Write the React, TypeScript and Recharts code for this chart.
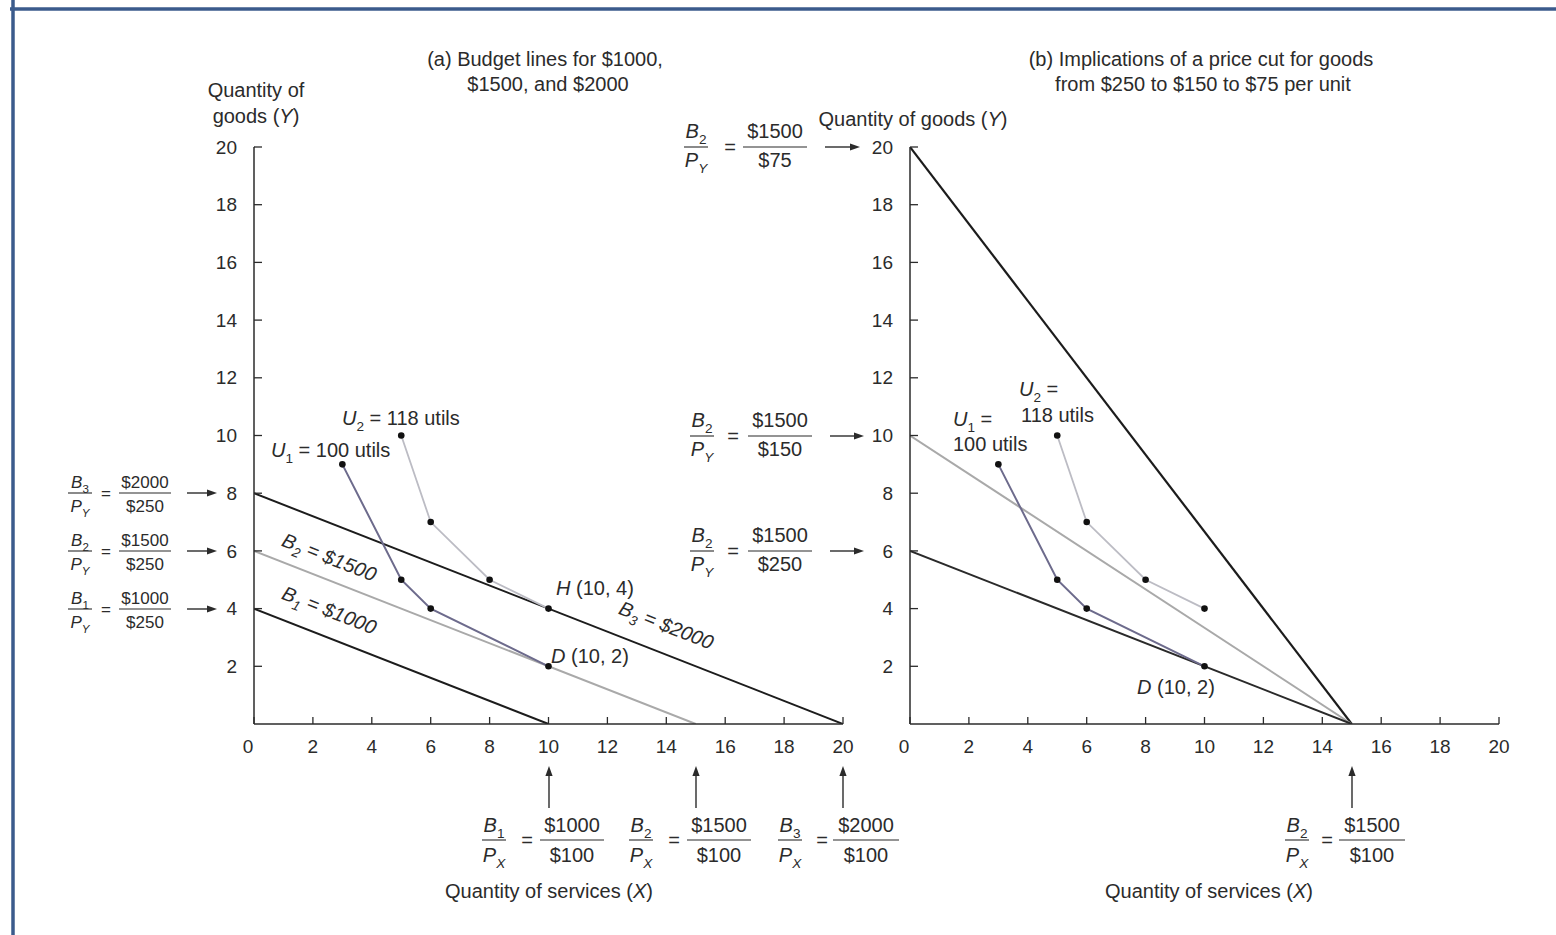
import React from 'react';
import { LineChart, Line, XAxis, YAxis } from 'recharts';

type Pt = { x: number; y: number };

// panel (a): budget lines for $1000, $1500, $2000 (Px = $100, Py = $250)
const budget1000: Pt[] = [{ x: 0, y: 4 }, { x: 10, y: 0 }];
const budget1500: Pt[] = [{ x: 0, y: 6 }, { x: 15, y: 0 }];
const budget2000: Pt[] = [{ x: 0, y: 8 }, { x: 20, y: 0 }];

// indifference curves (same points in both panels)
const util100: Pt[] = [{ x: 3, y: 9 }, { x: 5, y: 5 }, { x: 6, y: 4 }, { x: 10, y: 2 }];
const util118: Pt[] = [{ x: 5, y: 10 }, { x: 6, y: 7 }, { x: 8, y: 5 }, { x: 10, y: 4 }];

// panel (b): $1500 budget with goods at $75, $150, $250
const goods75: Pt[] = [{ x: 0, y: 20 }, { x: 15, y: 0 }];
const goods150: Pt[] = [{ x: 0, y: 10 }, { x: 15, y: 0 }];
const goods250: Pt[] = [{ x: 0, y: 6 }, { x: 15, y: 0 }];

const xTicks = [0, 2, 4, 6, 8, 10, 12, 14, 16, 18, 20];
const yTicks = [2, 4, 6, 8, 10, 12, 14, 16, 18, 20];

const FONT = '"Liberation Sans", Arial, Helvetica, sans-serif';
const INK = '#2b2b2b';
const BLACK = '#1c1c1c';
const GRAY = '#a9a9a9';
const U1C = '#6d6b8c';
const U2C = '#bcbcc4';

const XTick = (props: any) => {
  const { x, y, payload } = props;
  return (
    <text x={payload.value === 0 ? x - 6 : x} y={y} dy="0.71em" textAnchor="middle"
      fontSize={19} fill={INK} fontFamily={FONT}>
      {payload.value}
    </text>
  );
};

const YTick = (props: any) => {
  const { x, y, payload } = props;
  return (
    <text x={x} y={y} dy="0.35em" textAnchor="end" fontSize={19} fill={INK} fontFamily={FONT}>
      {payload.value}
    </text>
  );
};

const dot = { r: 3.3, fill: '#111', stroke: '#111', strokeWidth: 0 };

function Axes() {
  return [
    <XAxis key="x" type="number" dataKey="x" domain={[0, 20]} ticks={xTicks} interval={0}
      allowDataOverflow height={30} tickSize={-7} tickMargin={22.5} tick={<XTick />}
      axisLine={{ stroke: INK, strokeWidth: 1.5 }} tickLine={{ stroke: INK, strokeWidth: 1.3 }} />,
    <YAxis key="y" type="number" dataKey="y" domain={[0, 20]} ticks={yTicks} interval={0}
      allowDataOverflow width={40} tickSize={-8} tickMargin={25} tick={<YTick />}
      axisLine={{ stroke: INK, strokeWidth: 1.5 }} tickLine={{ stroke: INK, strokeWidth: 1.3 }} />,
  ];
}

function Sub({ b, s, size, italicSub }: { b: string; s: string; size: number; italicSub?: boolean }) {
  return (
    <>
      <tspan fontStyle="italic">{b}</tspan>
      <tspan fontSize={size * 0.68} dy={size * 0.28} fontStyle={italicSub ? 'italic' : 'normal'}>{s}</tspan>
    </>
  );
}

function Arrow({ x1, y1, x2, y2 }: { x1: number; y1: number; x2: number; y2: number }) {
  const a = Math.atan2(y2 - y1, x2 - x1);
  const L = 10, W = 3.6;
  const bx = x2 - L * Math.cos(a), by = y2 - L * Math.sin(a);
  const px = -Math.sin(a) * W, py = Math.cos(a) * W;
  return (
    <g>
      <line x1={x1} y1={y1} x2={bx} y2={by} stroke={INK} strokeWidth={1.4} />
      <polygon points={`${x2},${y2} ${bx + px},${by + py} ${bx - px},${by - py}`} fill={INK} />
    </g>
  );
}

function Frac(p: {
  y: number; lx: number; eqx: number; vx: number; vw: number; sub: string; den: string;
  num: string; dv: string; fs: number; nOff: number; dOff: number;
}) {
  const { y, lx, eqx, vx, vw, sub, den, num, dv, fs, nOff, dOff } = p;
  return (
    <g fontSize={fs} fill={INK} fontFamily={FONT}>
      <text x={lx} y={y - nOff} textAnchor="middle"><Sub b="B" s={sub} size={fs} /></text>
      <line x1={lx - 12} x2={lx + 12} y1={y} y2={y} stroke={INK} strokeWidth={1.1} />
      <text x={lx} y={y + dOff} textAnchor="middle"><Sub b="P" s={den} size={fs} italicSub /></text>
      <text x={eqx} y={y + fs * 0.34} textAnchor="middle">=</text>
      <text x={vx} y={y - nOff} textAnchor="middle">{num}</text>
      <line x1={vx - vw} x2={vx + vw} y1={y} y2={y} stroke={INK} strokeWidth={1.1} />
      <text x={vx} y={y + dOff} textAnchor="middle">{dv}</text>
    </g>
  );
}

function Overlay() {
  const fs = 20;
  return (
    <svg width={1556} height={935} style={{ position: 'absolute', left: 0, top: 0, pointerEvents: 'none' }}
      fontFamily={FONT} fill={INK}>
      {/* frame */}
      <line x1={10} x2={1556} y1={9} y2={9} stroke="#3b5b8c" strokeWidth={3.5} />
      <line x1={13} x2={13} y1={0} y2={935} stroke="#3b5b8c" strokeWidth={3.5} />

      {/* titles */}
      <g fontSize={fs} textAnchor="middle">
        <text x={545} y={66}>(a) Budget lines for $1000,</text>
        <text x={548} y={91}>$1500, and $2000</text>
        <text x={1201} y={66}>(b) Implications of a price cut for goods</text>
        <text x={1203} y={91}>from $250 to $150 to $75 per unit</text>

        <text x={256} y={97}>Quantity of</text>
        <text x={256} y={123}>goods (<tspan fontStyle="italic">Y</tspan>)</text>
        <text x={913} y={126}>Quantity of goods (<tspan fontStyle="italic">Y</tspan>)</text>
        <text x={549} y={898}>Quantity of services (<tspan fontStyle="italic">X</tspan>)</text>
        <text x={1209} y={898}>Quantity of services (<tspan fontStyle="italic">X</tspan>)</text>
      </g>

      {/* panel (a) intercept fractions on the goods axis */}
      <Frac y={493} lx={80} eqx={106} vx={145} vw={26} sub="3" den="Y" num="$2000" dv="$250" fs={17} nOff={5} dOff={19} />
      <Frac y={551} lx={80} eqx={106} vx={145} vw={26} sub="2" den="Y" num="$1500" dv="$250" fs={17} nOff={5} dOff={19} />
      <Frac y={609} lx={80} eqx={106} vx={145} vw={26} sub="1" den="Y" num="$1000" dv="$250" fs={17} nOff={5} dOff={19} />
      <Arrow x1={187} y1={493} x2={217} y2={493} />
      <Arrow x1={187} y1={551} x2={217} y2={551} />
      <Arrow x1={187} y1={609} x2={217} y2={609} />

      {/* panel (a) intercept fractions on the services axis */}
      <Frac y={840} lx={494} eqx={527} vx={572} vw={32} sub="1" den="X" num="$1000" dv="$100" fs={fs} nOff={8} dOff={22} />
      <Frac y={840} lx={641} eqx={674} vx={719} vw={32} sub="2" den="X" num="$1500" dv="$100" fs={fs} nOff={8} dOff={22} />
      <Frac y={840} lx={790} eqx={822} vx={866} vw={33} sub="3" den="X" num="$2000" dv="$100" fs={fs} nOff={8} dOff={22} />
      <Arrow x1={549} y1={808} x2={549} y2={766} />
      <Arrow x1={696} y1={808} x2={696} y2={766} />
      <Arrow x1={843} y1={808} x2={843} y2={766} />

      {/* panel (b) fractions */}
      <Frac y={147} lx={696} eqx={730} vx={775} vw={32} sub="2" den="Y" num="$1500" dv="$75" fs={fs} nOff={9} dOff={20} />
      <Frac y={436} lx={702} eqx={733} vx={780} vw={32} sub="2" den="Y" num="$1500" dv="$150" fs={fs} nOff={9} dOff={20} />
      <Frac y={551} lx={702} eqx={733} vx={780} vw={32} sub="2" den="Y" num="$1500" dv="$250" fs={fs} nOff={9} dOff={20} />
      <Arrow x1={825} y1={147} x2={860} y2={147} />
      <Arrow x1={830} y1={436} x2={864} y2={436} />
      <Arrow x1={830} y1={551} x2={864} y2={551} />
      <Frac y={840} lx={1297} eqx={1327} vx={1372} vw={33} sub="2" den="X" num="$1500" dv="$100" fs={fs} nOff={8} dOff={22} />
      <Arrow x1={1352} y1={808} x2={1352} y2={766} />

      {/* curve labels panel (a) */}
      <g fontSize={fs}>
        <text x={342} y={425}><Sub b="U" s="2" size={fs} /><tspan dy={-fs * 0.28}> = 118 utils</tspan></text>
        <text x={271} y={457}><Sub b="U" s="1" size={fs} /><tspan dy={-fs * 0.28}> = 100 utils</tspan></text>
        <text x={556} y={595}><tspan fontStyle="italic">H</tspan> (10, 4)</text>
        <text x={551} y={663}><tspan fontStyle="italic">D</tspan> (10, 2)</text>
        <g fontStyle="italic" textAnchor="middle">
          <text x={329} y={564} transform="rotate(21.4 329 558)"><Sub b="B" s="2" size={fs} italicSub /><tspan dy={-fs * 0.28}> = $1500</tspan></text>
          <text x={329} y={617} transform="rotate(21.4 329 611)"><Sub b="B" s="1" size={fs} italicSub /><tspan dy={-fs * 0.28}> = $1000</tspan></text>
          <text x={666} y={632} transform="rotate(21.4 666 626)"><Sub b="B" s="3" size={fs} italicSub /><tspan dy={-fs * 0.28}> = $2000</tspan></text>
        </g>
      </g>

      {/* curve labels panel (b) */}
      <g fontSize={fs}>
        <text x={1019} y={396}><Sub b="U" s="2" size={fs} /><tspan dy={-fs * 0.28}> =</tspan></text>
        <text x={1021} y={422}>118 utils</text>
        <text x={953} y={426}><Sub b="U" s="1" size={fs} /><tspan dy={-fs * 0.28}> =</tspan></text>
        <text x={953} y={451}>100 utils</text>
        <text x={1137} y={694}><tspan fontStyle="italic">D</tspan> (10, 2)</text>
      </g>
    </svg>
  );
}

export default function App() {
  return (
    <div style={{ position: 'absolute', left: 0, top: 0, width: 1556, height: 935, background: '#fff', overflow: 'hidden' }}>
      {/* (a) budget lines */}
      <div style={{ position: 'absolute', left: 0, top: 0 }}>
        <LineChart width={900} height={935} margin={{ top: 147, left: 214, right: 57, bottom: 181 }}>
          {Axes()}
          <Line data={budget1000} dataKey="y" type="linear" stroke={BLACK} strokeWidth={2} dot={false} isAnimationActive={false} />
          <Line data={budget1500} dataKey="y" type="linear" stroke={GRAY} strokeWidth={2} dot={false} isAnimationActive={false} />
          <Line data={budget2000} dataKey="y" type="linear" stroke={BLACK} strokeWidth={2} dot={false} isAnimationActive={false} />
          <Line data={util118} dataKey="y" type="linear" stroke={U2C} strokeWidth={1.8} dot={dot} isAnimationActive={false} />
          <Line data={util100} dataKey="y" type="linear" stroke={U1C} strokeWidth={2} dot={dot} isAnimationActive={false} />
        </LineChart>
      </div>
      {/* (b) price cut for goods */}
      <div style={{ position: 'absolute', left: 656, top: 0 }}>
        <LineChart width={900} height={935} margin={{ top: 147, left: 214, right: 57, bottom: 181 }}>
          {Axes()}
          <Line data={goods75} dataKey="y" type="linear" stroke={BLACK} strokeWidth={2.2} dot={false} isAnimationActive={false} />
          <Line data={goods150} dataKey="y" type="linear" stroke={GRAY} strokeWidth={2} dot={false} isAnimationActive={false} />
          <Line data={goods250} dataKey="y" type="linear" stroke="#2a2a2a" strokeWidth={2} dot={false} isAnimationActive={false} />
          <Line data={util118} dataKey="y" type="linear" stroke={U2C} strokeWidth={1.8} dot={dot} isAnimationActive={false} />
          <Line data={util100} dataKey="y" type="linear" stroke={U1C} strokeWidth={2} dot={dot} isAnimationActive={false} />
        </LineChart>
      </div>
      <Overlay />
    </div>
  );
}
